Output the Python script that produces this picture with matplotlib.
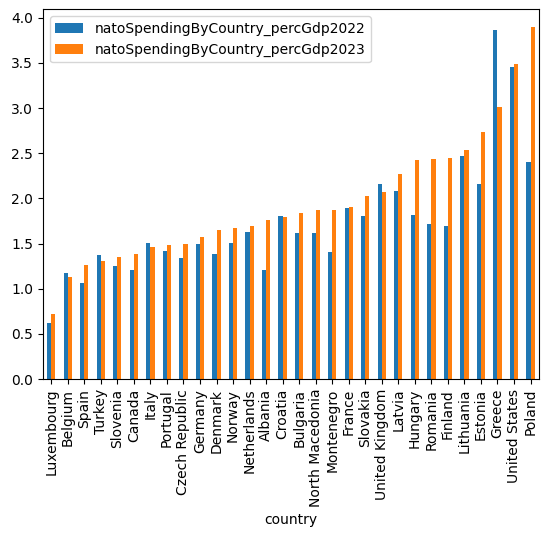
import matplotlib
matplotlib.use("Agg")
import matplotlib.pyplot as plt
import pandas as pd

countries = ["Luxembourg", "Belgium", "Spain", "Turkey", "Slovenia", "Canada", "Italy",
             "Portugal", "Czech Republic", "Germany", "Denmark", "Norway", "Netherlands",
             "Albania", "Croatia", "Bulgaria", "North Macedonia", "Montenegro", "France",
             "Slovakia", "United Kingdom", "Latvia", "Hungary", "Romania", "Finland",
             "Lithuania", "Estonia", "Greece", "United States", "Poland"]
perc2022 = [0.62, 1.18, 1.06, 1.37, 1.25, 1.21, 1.51, 1.42, 1.34, 1.49, 1.38, 1.51, 1.63,
            1.21, 1.81, 1.62, 1.62, 1.41, 1.89, 1.80, 2.16, 2.08, 1.82, 1.72, 1.69,
            2.47, 2.16, 3.86, 3.45, 2.40]
perc2023 = [0.72, 1.13, 1.26, 1.31, 1.35, 1.38, 1.46, 1.48, 1.50, 1.57, 1.65, 1.67, 1.70,
            1.76, 1.79, 1.84, 1.87, 1.87, 1.90, 2.03, 2.07, 2.27, 2.43, 2.44, 2.45,
            2.54, 2.73, 3.01, 3.49, 3.90]

df = pd.DataFrame({
    "country": countries,
    "natoSpendingByCountry_percGdp2022": perc2022,
    "natoSpendingByCountry_percGdp2023": perc2023,
}).set_index("country")

fig, ax = plt.subplots(figsize=(5.47, 5.37), dpi=100)
fig.subplots_adjust(left=0.0786, right=0.985, top=0.983, bottom=0.294)
df.plot.bar(ax=ax)
ax.legend(loc="upper left")
fig.savefig("out.png", dpi=100)
